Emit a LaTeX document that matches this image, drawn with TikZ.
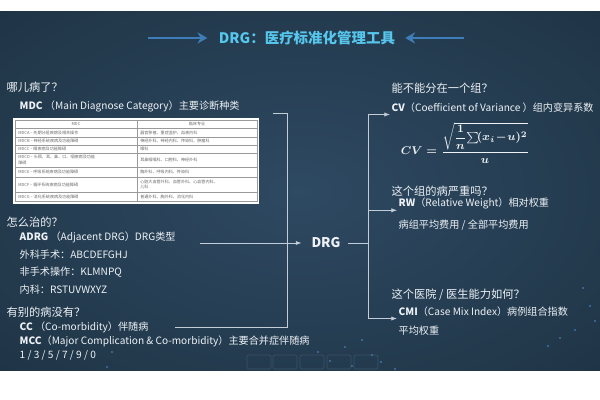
\documentclass[tikz,border=0pt]{standalone}
\usepackage{amsmath}
\usepackage{fontspec}
\setmainfont{Noto Sans CJK SC}
\usetikzlibrary{arrows.meta}
\definecolor{panelmid}{HTML}{2E4962}
\definecolor{panelmidb}{HTML}{213749}
\definecolor{paneledge}{HTML}{0A141C}
\definecolor{titlecyan}{HTML}{56C6EC}
\definecolor{arrowblue}{HTML}{3F7DB8}
\definecolor{txt}{HTML}{EEF2F6}
\definecolor{wire}{HTML}{C2CDD8}
\definecolor{tabgrid}{HTML}{9A9A9A}
\definecolor{tabtxt}{HTML}{6A6A6A}
\definecolor{btn}{HTML}{3A5266}
\definecolor{dotblue}{HTML}{4F8FD8}
\pgfdeclareradialshading{panelglow}{\pgfpoint{0bp}{0bp}}{color(0bp)=(panelmid); color(32bp)=(panelmidb); color(71bp)=(paneledge)}
\newcommand{\cvformula}{{\boldmath$\displaystyle CV=\dfrac{\sqrt{\dfrac{1}{n}\!\sum\!(x_i\!-\!u)^2}}{u}$}}

\begin{document}
\begin{tikzpicture}[x=0.025cm,y=-0.025cm,
    ask/.style={anchor=west,text=txt,inner sep=1pt,font=\fontsize{8}{9}\selectfont},
    item/.style={anchor=west,text=txt,inner sep=1pt,font=\fontsize{7.2}{8}\selectfont},
    cell/.style={anchor=west,text=tabtxt,inner sep=0pt,align=left,font=\fontsize{2.9}{4}\selectfont},
    link/.style={draw=wire,line width=0.5pt},
    feed/.style={link,-{Latex[length=4pt,width=3pt]}},
    banner/.style={draw=arrowblue,line width=2pt,-{Stealth[length=7pt,width=8pt]}}]
  \useasboundingbox (0,0) rectangle (600,400);
  \fill[white] (0,0) rectangle (600,400);
  \shade[shading=panelglow] (0,12) rectangle (600,371);

  % title
  \node[font=\bfseries\fontsize{10.3}{12}\selectfont,text=titlecyan,inner sep=0pt] (title) at (307,38) {DRG：医疗标准化管理工具};
  \coordinate (bannerL) at (148,38);
  \coordinate (bannerR) at (464,38);
  \draw[banner,shorten >=8pt] (bannerL) -- (title.west);
  \draw[banner,shorten >=7pt] (bannerR) -- (title.east);

  % left column
  \node[ask] (where) at (5,87) {哪儿病了？};
  \node[item] (mdc) at (18,106) {\textbf{MDC} （Main Diagnose Category）主要诊断种类};

  \fill[white] (13,118) rectangle (259,204);
  \draw[tabgrid,line width=0.3pt] (15,120) rectangle (257,201);
  \foreach \ry in {128,137,145,153,167,177,192}
    \draw[tabgrid,line width=0.3pt] (15,\ry) -- (257,\ry);
  \draw[tabgrid,line width=0.3pt] (137,120) -- (137,201);
  \node[cell,anchor=center] (mdchead) at (76,124) {MDC};
  \node[cell,anchor=center] (spechead) at (197,124) {临床专业};
  \node[cell] (mdca) at (18,132.5) {MDCA – 先期分组疾病及相关操作};
  \node[cell] (speca) at (140,132.5) {器官移植、重症监护、血液内科};
  \node[cell] (mdcb) at (18,141) {MDCB – 神经系统疾病及功能障碍};
  \node[cell] (specb) at (140,141) {神经外科、神经内科、传染科、肿瘤科};
  \node[cell] (mdcc) at (18,149) {MDCC – 眼疾病及功能障碍};
  \node[cell] (specc) at (140,149) {眼科};
  \node[cell] (mdcd) at (18,160) {MDCD – 头颈、耳、鼻、口、咽疾病及功能\\障碍};
  \node[cell] (specd) at (140,160) {耳鼻咽喉科、口腔科、神经外科};
  \node[cell] (mdce) at (18,172) {MDCE – 呼吸系统疾病及功能障碍};
  \node[cell] (spece) at (140,172) {胸外科、呼吸内科、传染科};
  \node[cell] (mdcf) at (18,184.5) {MDCF – 循环系统疾病及功能障碍};
  \node[cell] (specf) at (140,184.5) {心脏大血管外科、血管外科、心血管内科、\\儿科};
  \node[cell] (mdcg) at (18,196.5) {MDCG – 消化系统疾病及功能障碍};
  \node[cell] (specg) at (140,196.5) {普通外科、胸外科、消化内科};

  \node[ask] (how) at (5,222) {怎么治的？};
  \node[item] (adrg) at (18,237) {\textbf{ADRG} （Adjacent DRG）DRG类型};
  \node[item] (surg) at (18,255) {外科手术：ABCDEFGHJ};
  \node[item] (nonsurg) at (18,272) {非手术操作：KLMNPQ};
  \node[item] (med) at (18,290) {内科：RSTUVWXYZ};

  \node[ask] (other) at (5,312) {有别的病没有？};
  \node[item] (cc) at (18,327) {\textbf{CC} （Co-morbidity）伴随病};
  \node[item] (mcc) at (18,341) {\textbf{MCC}（Major Complication \& Co-morbidity）主要合并症伴随病};
  \node[item] (digits) at (18,355) {1 / 3 / 5 / 7 / 9 / 0};

  % centre
  \node[font=\bfseries\fontsize{9.5}{11}\selectfont,text=txt,inner sep=5pt] (drg) at (326,243) {DRG};
  \coordinate (mdctap) at (273,113);
  \coordinate (cctap) at (175,327);
  \coordinate (adrgtap) at (200,243);
  \coordinate (bus) at (368,243);
  \draw[link] (mdctap) -- (287,113) -- (287,327) -- (cctap);
  \draw[feed,shorten >=2pt] (adrgtap) -- (drg.west);
  \draw[link] (drg.east) -- (bus);

  % right column
  \node[ask] (group) at (390,88) {能不能分在一个组？};
  \node[item] (cv) at (390,108) {\textbf{CV}（Coefficient of Variance ）组内变异系数};
  \node[text=txt,font=\fontsize{8.3}{10}\selectfont] (cvfml) at (465,143) {\cvformula};
  \node[ask] (severe) at (390,191) {这个组的病严重吗？};
  \node[item] (rw) at (397,203) {\textbf{RW}（Relative Weight）相对权重};
  \node[item] (rwdef) at (397,225) {病组平均费用 / 全部平均费用};
  \node[ask] (ability) at (390,295) {这个医院 / 医生能力如何？};
  \node[item] (cmi) at (397,312) {\textbf{CMI}（Case Mix Index）病例组合指数};
  \node[item] (cmidef) at (397,331) {平均权重};

  \draw[feed] (bus) |- (cv.south west);
  \draw[feed] (bus) |- (rw.south west);
  \draw[feed] (bus) |- (cmi.south west);

  % footer buttons and sparkle
  \foreach \bx in {247,273,300,327,354}
    \draw[btn,line width=0.5pt,rounded corners=1.5pt] (\bx,355) rectangle ++(24,14);
  \foreach \dx/\dy in {318/352,330/361,345/347,352/366,372/355,381/362,395/369,362/340,107/367,112/352,583/288,590/306,560/338,575/330,595/321,548/346}
    \fill[dotblue] (\dx,\dy) circle (0.6pt);
\end{tikzpicture}
\end{document}
